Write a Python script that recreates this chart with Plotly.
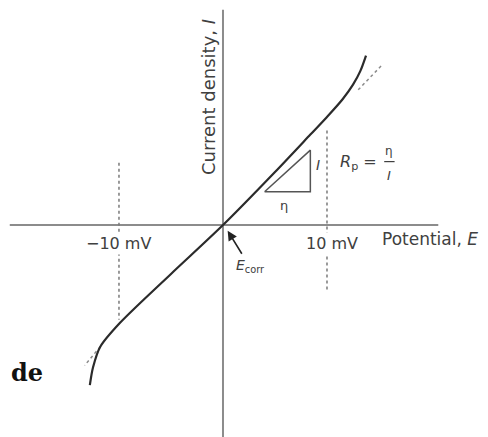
import plotly.graph_objects as go

# Polarization curve (potential in mV, current density in arbitrary units)
potential_mv = [-12.8, -12.5, -11.8, -9.9, -5.0, 0.0, 5.0, 8.4, 10.0, 11.5, 12.5, 13.2, 13.75]
current = [-15.4, -13.7, -11.7, -9.4, -4.7, 0.0, 5.1, 8.7, 10.4, 12.1, 13.5, 14.8, 16.3]

# dotted extrapolations of the linear part
low_ext_x = [-11.8, -13.3]
low_ext_y = [-11.7, -13.5]
high_ext_x = [13.0, 15.3]
high_ext_y = [13.0, 15.4]

# +/- 10 mV guide lines
guide_x = [-10, 10]
guide_top = [6.0, 9.1]
guide_bottom = [-9.1, -6.3]
tick_labels = ['\u221210 mV', '10 mV']

# triangle for R_p = eta / I
tri_x = [4.0, 8.4, 8.4, 4.0]
tri_y = [3.2, 3.2, 7.2, 3.2]

axis_col = '#8c8c8c'
text_col = '#404040'
font = 'DejaVu Sans'

fig = go.Figure()

# axes
fig.add_trace(go.Scatter(x=[-20.5, 20.7], y=[0, 0], mode='lines',
                         line=dict(color=axis_col, width=2), hoverinfo='skip'))
fig.add_trace(go.Scatter(x=[0, 0], y=[20.7, -20.5], mode='lines',
                         line=dict(color=axis_col, width=2), hoverinfo='skip'))

# guide lines
for gx, gt, gb in zip(guide_x, guide_top, guide_bottom):
    fig.add_trace(go.Scatter(x=[gx, gx], y=[gt, gb], mode='lines',
                             line=dict(color='#7a7a7a', width=1.5, dash='dot'), hoverinfo='skip'))

# extrapolations
for ex, ey in [(low_ext_x, low_ext_y), (high_ext_x, high_ext_y)]:
    fig.add_trace(go.Scatter(x=ex, y=ey, mode='lines',
                             line=dict(color='#8a8a8a', width=1.5, dash='dot'), hoverinfo='skip'))

# triangle
fig.add_trace(go.Scatter(x=tri_x, y=tri_y, mode='lines',
                         line=dict(color='#555555', width=1.5), hoverinfo='skip'))

# curve
fig.add_trace(go.Scatter(x=potential_mv, y=current, mode='lines',
                         line=dict(color='#2b2b2b', width=2.2, shape='spline', smoothing=0.8),
                         hoverinfo='skip'))

# tick labels (white background hides the dotted line)
for gx, lab in zip(guide_x, tick_labels):
    fig.add_annotation(x=gx + (0 if gx < 0 else 0.5), y=-1.75, text=lab, showarrow=False,
                       font=dict(family=font, size=16, color=text_col), bgcolor='white')

fig.add_annotation(x=15.1, y=-1.35, text='Potential, <i>E</i>', showarrow=False, xanchor='left',
                   font=dict(family=font, size=17, color=text_col))
fig.add_annotation(x=-1.45, y=12.3, text='Current density, <i>I</i>', showarrow=False,
                   textangle=-90, font=dict(family=font, size=18, color=text_col))

# E_corr with arrow
fig.add_annotation(x=0.45, y=-0.55, ax=1.9, ay=-2.9, axref='x', ayref='y', text='',
                   showarrow=True, arrowhead=2, arrowsize=1.2, arrowwidth=1.6, arrowcolor='#222222')
fig.add_annotation(x=1.1, y=-3.95, text='<i>E</i><sub>corr</sub>', showarrow=False, xanchor='left',
                   font=dict(family=font, size=14, color=text_col))

# triangle labels
fig.add_annotation(x=9.1, y=5.8, text='<i>I</i>', showarrow=False,
                   font=dict(family=font, size=14, color=text_col))
fig.add_annotation(x=5.9, y=1.9, text='\u03b7', showarrow=False,
                   font=dict(family=font, size=13, color=text_col))

# R_p = eta / I
fig.add_annotation(x=11.1, y=6.0, text='<i>R</i><sub>p</sub> =', showarrow=False, xanchor='left',
                   font=dict(family=font, size=16, color=text_col))
fig.add_annotation(x=16.0, y=7.1, text='\u03b7', showarrow=False,
                   font=dict(family=font, size=12, color=text_col))
fig.add_annotation(x=16.0, y=4.8, text='<i>I</i>', showarrow=False,
                   font=dict(family=font, size=13, color=text_col))
fig.add_shape(type='line', x0=15.5, x1=16.5, y0=6.1, y1=6.1,
              line=dict(color=text_col, width=1.2))

# leftover text from the scanned page
fig.add_annotation(x=-20.6, y=-14.2, text='<b>de</b>', showarrow=False, xanchor='left',
                   font=dict(family='DejaVu Serif', size=24, color='#111111'))

# page body has an 8px margin, so the figure is 8px smaller and the ranges start 8px in
fig.update_layout(
    width=480, height=429,
    margin=dict(l=0, r=0, t=0, b=0),
    paper_bgcolor='white', plot_bgcolor='white',
    showlegend=False,
    xaxis=dict(range=[-20.67, 25.48], visible=False, fixedrange=True),
    yaxis=dict(range=[-20.38, 20.87], visible=False, fixedrange=True),
)

fig.write_html('out.html')
